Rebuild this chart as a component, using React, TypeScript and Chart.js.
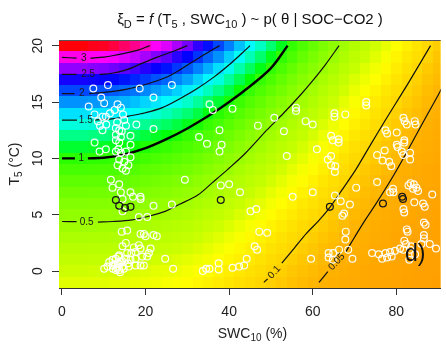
import React, { useEffect, useRef } from "react";
import { Chart, registerables } from "chart.js";
Chart.register(...registerables);

// ---- model grid (rows: T5 °C, columns: SWC10 %) ----
const gridT = [-1, 0, 1, 2, 3, 4, 5, 6, 7, 8, 9, 10, 11, 12, 13, 14, 15, 16, 17, 18, 19, 20];
const gridSWC = [0, 2.5, 5, 7.5, 10, 12.5, 15, 17.5, 20, 22.5, 25, 27.5, 30, 32.5, 35, 37.5, 40, 42.5, 45, 47.5, 50, 52.5, 55, 57.5, 60, 62.5, 65, 67.5, 70, 72.5, 75, 77.5, 80, 82.5, 85, 87.5, 90];
// temperature response per row and moisture response per column (read from the colour field / contours)
const tempEffect = [0.256, 0.289, 0.328, 0.371, 0.42, 0.475, 0.538, 0.609, 0.689, 0.78, 0.883, 1.0, 1.132, 1.281, 1.45, 1.642, 1.859, 2.104, 2.382, 2.696, 3.052, 3.455];
const swcEffect = [1.0, 1.0, 1.0, 0.99, 0.985, 0.97, 0.95, 0.93, 0.9, 0.87, 0.84, 0.8, 0.76, 0.71, 0.66, 0.61, 0.555, 0.5, 0.45, 0.405, 0.36, 0.32, 0.28, 0.245, 0.215, 0.185, 0.16, 0.135, 0.113, 0.097, 0.083, 0.07, 0.058, 0.048, 0.04, 0.032, 0.026];

// colour scale (value -> hue)
const stopValues = [0, 0.05, 0.1, 0.2, 0.3, 0.5, 0.8, 1.0, 1.15, 1.3, 1.45, 1.65, 1.85, 2.1, 2.4, 2.7, 3.05, 3.45];
const stopHues = [37, 42, 50, 60, 73, 84, 99, 110, 134, 154, 172, 188, 205, 223, 246, 275, 305, 358];

// ---- contour lines (SWC, T) ----
const c3a: [number, number][] = [[0, 18.95], [3.5, 18.9]];
const c3b: [number, number][] = [[6.8, 18.9], [10, 18.98], [13.4, 19.2], [16, 19.4], [18.2, 19.6], [21, 20]];
const c25a: [number, number][] = [[0, 17.45], [3.5, 17.45]];
const c25b: [number, number][] = [[9, 17.45], [12, 17.55], [15, 17.8], [19, 18.4], [23, 19.0], [27, 19.55], [30, 20]];
const c2a: [number, number][] = [[0, 15.75], [3, 15.75]];
const c2b: [number, number][] = [[6.5, 15.75], [10, 15.85], [15, 16.1], [20, 16.55], [25, 17.2], [28, 17.8], [31, 18.5], [34.5, 19.3], [37.7, 20]];
const c15a: [number, number][] = [[0, 13.4], [3.6, 13.4]];
const c15b: [number, number][] = [[7.8, 13.4], [12, 13.5], [16, 13.75], [20, 14.05], [24, 14.5], [28, 15.25], [32, 16.1], [36.5, 17.25], [40, 18.3], [43, 19.3], [45, 20]];
const c1a: [number, number][] = [[0, 10.0], [3.1, 10.0]];
const c1b: [number, number][] = [[6.2, 10.0], [10, 10.05], [15, 10.35], [20, 10.9], [25, 11.7], [30, 12.65], [35, 13.75], [40, 15.0], [45, 16.4], [50, 18.0], [54, 20]];
const c05a: [number, number][] = [[0, 4.4], [3.5, 4.38]];
const c05b: [number, number][] = [[8.6, 4.35], [12, 4.4], [16.8, 4.55], [20, 4.8], [24.7, 5.3], [28, 5.9], [32.5, 6.75], [36, 7.85], [39.6, 9.0], [44, 10.5], [49, 12.5], [53, 14.0], [57, 15.6], [60, 16.9], [63, 18.3], [66.3, 20]];
const c01a: [number, number][] = [[48.3, -1], [49.2, -0.7]];
const c01b: [number, number][] = [[52.6, 0.7], [55.5, 2.0], [58.5, 3.35], [61.5, 4.5], [64.2, 5.7], [67.1, 7.25], [70.3, 9.0], [73.5, 11.0], [77.4, 13.4], [82.9, 16.7], [88.2, 20]];
const c005a: [number, number][] = [[61.5, -1], [63.6, -0.05]];
const c005b: [number, number][] = [[67.9, 1.7], [70, 3.0], [72.5, 4.5], [75, 5.9], [77.4, 7.3], [80, 8.9], [83.6, 11.3], [87, 13.6], [90, 15.6], [91, 16.3]];
const thinContours = [c3a, c3b, c25a, c25b, c2a, c2b, c15a, c15b, c05a, c05b, c01a, c01b, c005a, c005b];
const thickContours = [c1a, c1b];

const contourLabelText = ["3", "2.5", "2", "1.5", "1", "0.5", "0.1", "0.05"];
const contourLabelSWC = [5.2, 6.25, 4.75, 5.7, 4.65, 5.9, 50.8, 65.75];
const contourLabelT = [18.9, 17.45, 15.75, 13.4, 10.0, 4.37, -0.1, 0.82];
const contourLabelAngle = [0, 0, 0, 0, 0, 0, -48, -47];

// ---- observations (SWC, T) ----
const whitePoints: [number, number][] = [
  [7.5, 16.2], [11, 16.5], [18.6, 16.2], [26.3, 16.5], [21.9, 15.4], [6.4, 14.6], [9.4, 15.4], [10.1, 14.9], [13.3, 14.8], [14.1, 14.5],
  [12.6, 14.3], [7.8, 13.9], [9.7, 13.7], [10.5, 13.7], [11.5, 14.0], [8.6, 13.3], [9.1, 12.9], [9.7, 12.5], [10.6, 13.0], [14.9, 13.4],
  [15.3, 12.9], [17.8, 13.0], [12.9, 12.7], [13.7, 12.5], [14.3, 12.4], [12.9, 12.1], [14.1, 11.9], [16.4, 12.0], [12.9, 11.6], [13.7, 11.4],
  [7.8, 11.4], [16.4, 11.2], [13.5, 10.8], [9.0, 10.6], [10.5, 10.8], [12.9, 10.6], [14.1, 10.5], [15.3, 10.6], [16.4, 10.1], [13.7, 9.9],
  [14.9, 9.7], [13.3, 9.4], [15.9, 9.4], [14.5, 9.1], [15.3, 8.9], [11.7, 8.1], [29.4, 8.1], [13.7, 7.7], [12.1, 7.4], [14.1, 7.0],
  [16.4, 7.0], [18.8, 6.6], [21.9, 12.6], [32.8, 11.9], [34.7, 11.3], [37.7, 12.5], [38.2, 11.2], [37.7, 10.6], [35.3, 14.8], [36.1, 14.3],
  [40.8, 14.4], [14.6, 13.9], [13.2, 13.2],
  [14.5, 6.4], [17, 6.6], [18.8, 6.4], [21.9, 5.8], [26.3, 5.9], [18.4, 4.8], [20.4, 4.8], [14.5, 5.3], [14.3, 3.5], [15.6, 3.6],
  [18.8, 3.3], [19.6, 3.3], [21.9, 3.2], [22.7, 3.1], [15.3, 2.5], [14.5, 2.2], [18.4, 2.3], [18.8, 2.0], [21.2, 2.0], [20.8, 1.6],
  [17.6, 1.7], [15.6, 1.6], [13.7, 1.4], [12.9, 1.1], [12.1, 1.0], [11.3, 0.8], [10.1, 0.2], [10.9, 0.4], [12.1, 0.5], [13.3, 0.7],
  [14.1, 0.8], [15.3, 1.1], [16.4, 1.0], [17.6, 1.1], [19.2, 1.3], [20.4, 1.3], [17.6, 0.5], [16.0, 0.4], [14.5, 0.4], [12.9, 0.1],
  [13.7, 0.1], [18.8, 0.5], [19.6, 0.5], [24.7, 1.1], [26.6, 0.2], [33.7, 0.0], [34.5, 0.2], [35.3, 0.2], [37.5, 0.15], [37.5, 0.7],
  [13.2, 0.3], [13.8, 0.6], [14.4, 0.9], [12.6, 0.6], [13.9, -0.1], [14.8, 0.2], [15.8, 0.7], [12.2, 0.2], [13.5, 1.3], [16.6, 1.6],
  [17.2, 2.1], [20.0, 3.1],
  [38, 7.6], [40, 7.7], [42.6, 7.0], [55.2, 6.6], [60, 7.0], [45.1, 5.3], [46.5, 5.5], [47.2, 3.5], [49.1, 3.4], [46.1, 2.2],
  [46.7, 1.9], [40.8, 0.3], [42.4, 0.4], [43.6, 0.5], [44.2, 1.1], [59.6, 1.1], [46.9, 12.9], [50.8, 13.6], [53.1, 12.4], [58.3, 13.3],
  [60, 13.0], [56, 14.5], [56, 14.2], [53.8, 10.2], [61, 10.8],
  [65.2, 14.0], [65.2, 13.7], [67.8, 13.9], [72.8, 15.0], [72.8, 14.7], [64.4, 12.0], [64.8, 11.6], [66.2, 11.7], [66.2, 11.4], [63.6, 9.9],
  [64.4, 10.2], [64.4, 9.4], [65.4, 9.3], [65.3, 8.8], [70.4, 7.4], [75.4, 7.9], [77.4, 12.5], [77.8, 12.2], [80.1, 12.3], [81.7, 13.6],
  [82, 13.3], [82.5, 13.0], [84.4, 13.3], [84.6, 13.0], [80.1, 11.2], [80.3, 11.0], [81.9, 11.6], [81.9, 11.4], [75.4, 10.3], [77.2, 10.7],
  [76.7, 9.8], [78.3, 9.7], [78.8, 9.3], [81.3, 10.6], [81.7, 10.3], [83.3, 10.5], [83.3, 9.9], [83.4, 7.8], [84.2, 7.7], [79.2, 7.3],
  [84.8, 7.4], [65.3, 6.7], [66.7, 6.2], [68.9, 5.9], [67.5, 5.1], [67.1, 4.9], [67.9, 3.5], [67.8, 2.8], [63.8, 1.6], [63.8, 1.2],
  [64.8, 1.0], [64.9, 1.6], [66.3, 1.9], [68.5, 1.9], [69.5, 1.1], [78.5, 7.0], [79.3, 7.0], [82.9, 7.6], [84.0, 7.3], [85.2, 7.1],
  [84.3, 6.1], [86.4, 6.0], [86.8, 5.7], [88.6, 6.8], [81.7, 5.5], [81.9, 5.2], [86.6, 4.3], [87, 4.1], [82.5, 3.7], [82.7, 3.5],
  [86.6, 3.2], [86.6, 2.9], [81.9, 2.7], [82.3, 2.4], [86, 2.4], [88, 2.4], [74.2, 1.6], [75.8, 1.5], [77.4, 1.6], [78.5, 1.7],
  [79.7, 1.8], [76.6, 1.1], [77.8, 1.2], [78.9, 1.3], [80.9, 2.0], [81.7, 1.9], [83.3, 1.9], [83.6, 2.2], [83.1, 1.0], [84.5, 1.5],
  [89.5, 2.0],
];
const blackPoints: [number, number][] = [
  [12.9, 6.3], [13.7, 5.8], [15.1, 5.6], [16.4, 5.7], [38, 6.3], [64.1, 5.7], [76.8, 6.0], [81.4, 6.6], [81.6, 6.4],
];

const xTicks = [0, 20, 40, 60, 80];
const yTicks = [0, 5, 10, 15, 20];

const FONT = "'Liberation Sans', Arial, Helvetica, sans-serif";

// table built from the two response arrays
const xiTable = gridT.map((_, i) => gridSWC.map((_, j) => tempEffect[i] * swcEffect[j]));

function hueFor(v: number) {
  if (v <= stopValues[0]) return stopHues[0];
  for (let k = 1; k < stopValues.length; k++) {
    if (v <= stopValues[k]) {
      const f = (v - stopValues[k - 1]) / (stopValues[k] - stopValues[k - 1]);
      return stopHues[k - 1] + f * (stopHues[k] - stopHues[k - 1]);
    }
  }
  return stopHues[stopHues.length - 1];
}

type Part = { t: string; size: number; dy?: number; italic?: boolean };
function drawRich(ctx: CanvasRenderingContext2D, parts: Part[], x: number, y: number) {
  const f = (p: Part) => `${p.italic ? "italic " : ""}${p.size}px ${FONT}`;
  const widths = parts.map((p) => {
    ctx.font = f(p);
    return ctx.measureText(p.t).width;
  });
  const total = widths.reduce((a, b) => a + b, 0);
  let cx = x - total / 2;
  ctx.textAlign = "left";
  ctx.textBaseline = "alphabetic";
  parts.forEach((p, i) => {
    ctx.font = f(p);
    ctx.fillText(p.t, cx, y + (p.dy || 0));
    cx += widths[i];
  });
}

const heatmapPlugin = {
  id: "heatmap",
  beforeDatasetsDraw(chart: any) {
    const { ctx, chartArea: a, scales } = chart;
    const x = scales.x;
    const y = scales.y;
    ctx.save();
    ctx.beginPath();
    ctx.rect(a.left, a.top, a.right - a.left, a.bottom - a.top);
    ctx.clip();
    const halfW = (gridSWC[1] - gridSWC[0]) / 2;
    gridT.forEach((t, i) => {
      const y1 = Math.round(y.getPixelForValue(t + 0.5));
      const y2 = Math.round(y.getPixelForValue(t - 0.5));
      gridSWC.forEach((s, j) => {
        const x1 = Math.round(x.getPixelForValue(s - halfW));
        const x2 = Math.round(x.getPixelForValue(s + halfW));
        ctx.fillStyle = `hsl(${hueFor(xiTable[i][j]).toFixed(1)},100%,50%)`;
        ctx.fillRect(x1, y1, x2 - x1, y2 - y1);
      });
    });
    ctx.restore();
  },
};

const decorPlugin = {
  id: "decor",
  afterDatasetsDraw(chart: any) {
    const { ctx, scales } = chart;
    ctx.save();
    ctx.fillStyle = "#1a1a1a";
    ctx.font = `10px ${FONT}`;
    ctx.textAlign = "center";
    ctx.textBaseline = "middle";
    contourLabelText.forEach((txt, k) => {
      const px = scales.x.getPixelForValue(contourLabelSWC[k]);
      const py = scales.y.getPixelForValue(contourLabelT[k]);
      ctx.save();
      ctx.translate(px, py);
      ctx.rotate((contourLabelAngle[k] * Math.PI) / 180);
      ctx.fillText(txt, 0, 0);
      ctx.restore();
    });
    ctx.restore();
  },
  afterDraw(chart: any) {
    const { ctx, chartArea: a, scales } = chart;
    ctx.save();
    // top frame line
    ctx.strokeStyle = "#555";
    ctx.lineWidth = 1;
    ctx.beginPath();
    ctx.moveTo(a.left, a.top + 0.5);
    ctx.lineTo(a.right, a.top + 0.5);
    ctx.stroke();

    // y tick labels (rotated, R style)
    ctx.fillStyle = "#222";
    ctx.font = `14px ${FONT}`;
    ctx.textAlign = "center";
    ctx.textBaseline = "alphabetic";
    yTicks.forEach((v) => {
      const py = scales.y.getPixelForValue(v);
      ctx.save();
      ctx.translate(41.5, py);
      ctx.rotate(-Math.PI / 2);
      ctx.fillText(String(v), 0, 0);
      ctx.restore();
    });

    // title
    ctx.fillStyle = "#111";
    drawRich(
      ctx,
      [
        { t: "ξ", size: 15 },
        { t: "D", size: 11, dy: 4 },
        { t: " = ", size: 15 },
        { t: "f", size: 15, italic: true },
        { t: " (T", size: 15 },
        { t: "5", size: 11, dy: 4 },
        { t: " , SWC", size: 15 },
        { t: "10", size: 11, dy: 4 },
        { t: " ) ~ p( θ | SOC−CO2 )", size: 15 },
      ],
      250,
      24
    );

    // x axis title
    ctx.fillStyle = "#222";
    drawRich(
      ctx,
      [
        { t: "SWC", size: 14 },
        { t: "10", size: 10, dy: 3 },
        { t: " (%)", size: 14 },
      ],
      252.5,
      338
    );

    // y axis title
    ctx.save();
    ctx.translate(19, 164);
    ctx.rotate(-Math.PI / 2);
    drawRich(
      ctx,
      [
        { t: "T", size: 14 },
        { t: "5", size: 10, dy: 3 },
        { t: " (°C)", size: 14 },
      ],
      0,
      0
    );
    ctx.restore();

    // panel letter
    ctx.fillStyle = "#111";
    ctx.font = `23px ${FONT}`;
    ctx.textAlign = "left";
    ctx.textBaseline = "alphabetic";
    ctx.fillText("d)", 405, 261);
    ctx.restore();
  },
};

export default function App() {
  const ref = useRef<HTMLCanvasElement>(null);
  useEffect(() => {
    const canvas = ref.current;
    if (!canvas) return;
    Chart.defaults.font.family = FONT;
    const toXY = (arr: [number, number][]) => arr.map(([x, y]) => ({ x, y }));
    const datasets: any[] = [];
    thinContours.forEach((seg) =>
      datasets.push({
        data: toXY(seg),
        showLine: true,
        borderColor: "#111",
        borderWidth: 1.2,
        pointRadius: 0,
        tension: 0.35,
        order: 5,
      })
    );
    thickContours.forEach((seg) =>
      datasets.push({
        data: toXY(seg),
        showLine: true,
        borderColor: "#000",
        borderWidth: 2.4,
        pointRadius: 0,
        tension: 0.35,
        order: 5,
      })
    );
    datasets.push({
      data: toXY(whitePoints),
      showLine: false,
      pointStyle: "circle",
      pointRadius: 3.4,
      borderWidth: 1.2,
      borderColor: "rgba(255,255,255,0.95)",
      backgroundColor: "rgba(0,0,0,0)",
      order: 1,
    });
    datasets.push({
      data: toXY(blackPoints),
      showLine: false,
      pointStyle: "circle",
      pointRadius: 3.4,
      borderWidth: 1.3,
      borderColor: "#1a1a1a",
      backgroundColor: "rgba(0,0,0,0)",
      order: 0,
    });

    const chart = new Chart(canvas, {
      type: "scatter",
      data: { datasets },
      options: {
        animation: false,
        responsive: false,
        devicePixelRatio: 1,
        layout: { padding: { top: 40, left: 0, right: 0, bottom: 0 } },
        plugins: { legend: { display: false }, tooltip: { enabled: false }, title: { display: false } },
        scales: {
          x: {
            type: "linear",
            min: -0.708,
            max: 90.62,
            z: 1,
            afterBuildTicks: (s: any) => {
              s.ticks = xTicks.map((v) => ({ value: v }));
            },
            afterFit: (s: any) => {
              s.height = 58;
            },
            ticks: {
              color: "#222",
              font: { size: 14, family: FONT },
              padding: 9,
              autoSkip: false,
              maxRotation: 0,
              minRotation: 0,
              callback: (v: any) => String(v),
            },
            grid: { drawOnChartArea: false, drawTicks: true, tickLength: 7, color: "#333", lineWidth: 1 },
            border: { display: true, color: "#333", width: 1 },
          },
          y: {
            type: "linear",
            min: -1.5,
            max: 20.5,
            z: 1,
            afterBuildTicks: (s: any) => {
              s.ticks = yTicks.map((v) => ({ value: v }));
            },
            afterFit: (s: any) => {
              s.width = 59;
            },
            ticks: { color: "rgba(0,0,0,0)", font: { size: 14, family: FONT }, autoSkip: false },
            grid: { drawOnChartArea: false, drawTicks: true, tickLength: 7, color: "#333", lineWidth: 1 },
            border: { display: true, color: "#333", width: 1 },
          },
        },
      } as any,
      plugins: [heatmapPlugin, decorPlugin],
    });
    return () => chart.destroy();
  }, []);
  return (
    <div style={{ position: "absolute", left: 0, top: 0, width: 446, height: 346, background: "#fff" }}>
      <canvas ref={ref} width={446} height={346} style={{ display: "block" }} />
    </div>
  );
}
